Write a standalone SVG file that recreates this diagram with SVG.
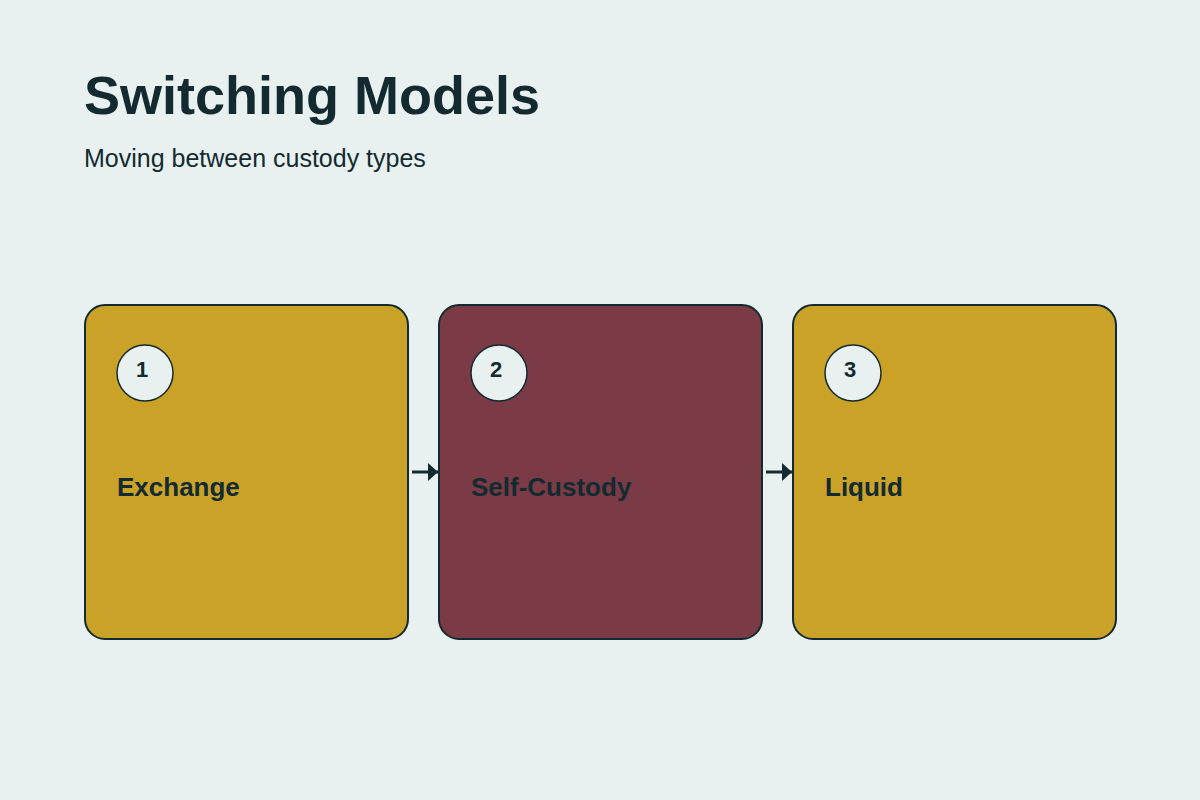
<svg xmlns="http://www.w3.org/2000/svg" width="1200" height="800" viewBox="0 0 1200 800">
<style>
.title{font-family:"Liberation Sans",Arial,sans-serif;font-weight:700;font-size:54px;fill:#132a30}
.sub{font-family:"Liberation Sans",Arial,sans-serif;font-size:25px;fill:#132a30}
.card{stroke:#132a30;stroke-width:2}
.num{fill:#e8f1ef;stroke:#132a30;stroke-width:1.5}
.numt{font-family:"Liberation Sans",Arial,sans-serif;font-weight:700;font-size:22px;fill:#132a30;text-anchor:middle}
.lbl{font-family:"Liberation Sans",Arial,sans-serif;font-weight:700;font-size:26px;fill:#132a30}
.conn{stroke:#132a30;stroke-width:3;fill:none}
</style>
<defs>
<marker id="ah" markerWidth="10" markerHeight="18" refX="10" refY="9" orient="auto" markerUnits="userSpaceOnUse">
<path d="M0,0 L10,9 L0,18 Z" fill="#132a30"/>
</marker>
</defs>
<rect width="1200" height="800" fill="#e8f1ef"/>
<text class="title" x="84" y="114">Switching Models</text>
<text class="sub" x="84" y="167">Moving between custody types</text>
<g id="node1">
<rect class="card" x="85" y="305" width="323" height="334" rx="20" fill="#c9a227"/>
<circle class="num" cx="145" cy="373" r="28"/>
<text class="numt" x="142" y="377">1</text>
<text class="lbl" x="117" y="496">Exchange</text>
</g>
<g id="node2">
<rect class="card" x="439" y="305" width="323" height="334" rx="20" fill="#7a3b46"/>
<circle class="num" cx="499" cy="373" r="28"/>
<text class="numt" x="496" y="377">2</text>
<text class="lbl" x="471" y="496">Self-Custody</text>
</g>
<g id="node3">
<rect class="card" x="793" y="305" width="323" height="334" rx="20" fill="#c9a227"/>
<circle class="num" cx="853" cy="373" r="28"/>
<text class="numt" x="850" y="377">3</text>
<text class="lbl" x="825" y="496">Liquid</text>
</g>
<g id="connectors">
<line class="conn" x1="412" y1="472" x2="438" y2="472" marker-end="url(#ah)"/>
<line class="conn" x1="766" y1="472" x2="792" y2="472" marker-end="url(#ah)"/>
</g>
</svg>
